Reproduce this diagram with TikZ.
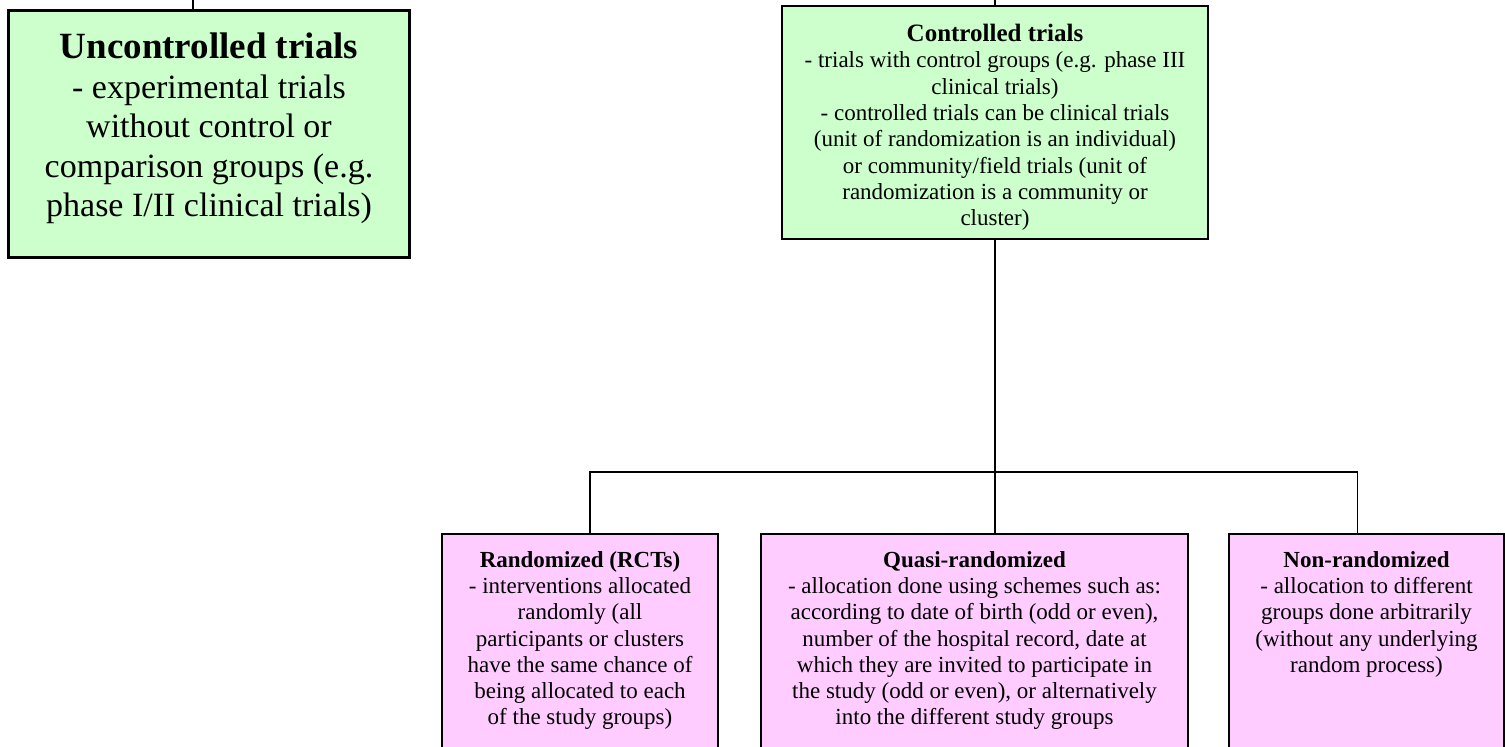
\documentclass[tikz,border=0pt]{standalone}
\usepackage{fontspec}
\setmainfont{Liberation Serif}
\usetikzlibrary{calc}
\definecolor{trialgreen}{HTML}{CCFFCC}
\definecolor{trialpink}{HTML}{FFCCFF}
\begin{document}
\begin{tikzpicture}[x=1bp,y=-1bp,
  box/.style={draw=black,line width=2bp,rectangle,inner sep=0pt,anchor=north west},
  greenbox/.style={box,fill=trialgreen},
  pinkbox/.style={box,fill=trialpink},
  label/.style={anchor=north,inner sep=0pt,align=center},
  bigtext/.style={label,font=\fontsize{34bp}{39.5bp}\selectfont},
  smalltext/.style={label,font=\fontsize{23bp}{26.3bp}\selectfont},
  link/.style={draw=black,line width=1.5bp}]
\useasboundingbox (0,0) rectangle (1505,747);

% top level boxes
\node[greenbox,line width=3bp,minimum width=401bp,minimum height=247bp] (unc) at (7,9) {};
\node[greenbox,minimum width=426bp,minimum height=233bp] (ctl) at (781,5) {};

% second level boxes (continue below the page edge)
\node[pinkbox,minimum width=276bp,minimum height=240bp] (rct) at (441,533) {};
\node[pinkbox,minimum width=427bp,minimum height=240bp] (quasi) at (760,533) {};
\node[pinkbox,minimum width=275bp,minimum height=240bp] (non) at (1228,533) {};

% texts
\node[bigtext] (uncT) at ($(unc.north)+(0,24)$)
  {{\fontsize{37bp}{39.5bp}\selectfont\bfseries Uncontrolled trials}\\
   - experimental trials\\ without control or\\ comparison groups (e.g.\\ phase I/II clinical trials)};
\node[smalltext] (ctlT) at ($(ctl.north)+(0,19)$)
  {{\fontsize{25bp}{26bp}\selectfont\bfseries Controlled trials}\\
   - trials with control groups (e.g. phase III\\ clinical trials)\\
   - controlled trials can be clinical trials\\ (unit of randomization is an individual)\\
   or community/field trials (unit of\\ randomization is a community or\\ cluster)};
\node[smalltext] (rctT) at ($(rct.north)+(0,18)$)
  {\textbf{Randomized (RCTs)}\\ - interventions allocated\\ randomly (all\\
   participants or clusters\\ have the same chance of\\ being allocated to each\\ of the study groups)};
\node[smalltext] (quasiT) at ($(quasi.north)+(0,18)$)
  {\textbf{Quasi-randomized}\\ - allocation done using schemes such as:\\
   according to date of birth (odd or even),\\ number of the hospital record, date at\\
   which they are invited to participate in\\ the study (odd or even), or alternatively\\
   into the different study groups};
\node[smalltext] (nonT) at ($(non.north)+(0,18)$)
  {\textbf{Non-randomized}\\ - allocation to different\\ groups done arbitrarily\\
   (without any underlying\\ random process)};

% connectors
\coordinate (uncUp) at (193,-5);
\coordinate (hub) at (994,472);
\draw[link] (uncUp) -- (unc.north west -| uncUp);
\draw[link] (ctl.north) -- ++(0,-10);
\draw[link] (ctl.south) -- (quasi.north -| ctl.south);
\draw[link] ([xshift=10bp]rct.north) |- (hub) -| ([xshift=-9bp]non.north);
\end{tikzpicture}
\end{document}
